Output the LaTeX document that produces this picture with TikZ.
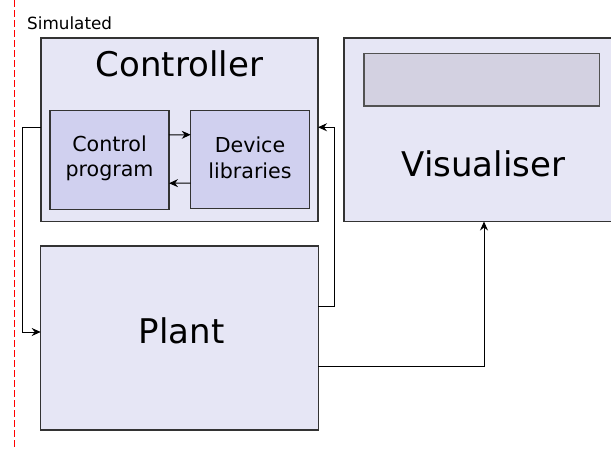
\documentclass[tikz,border=0pt]{standalone}
\usepackage{fontspec}
\setmainfont{DejaVu Sans}
\usetikzlibrary{arrows.meta}

\definecolor{panel}{HTML}{E6E6F5}
\definecolor{inner}{HTML}{D0D0EF}
\definecolor{screenfill}{HTML}{D3D1E1}
\definecolor{edge}{HTML}{333333}

\tikzset{
  block/.style={draw=edge, line width=1.2pt, fill=panel, rectangle,
                inner sep=0pt, outer sep=0pt, anchor=north west},
  subblock/.style={block, fill=inner},
  screenbox/.style={block, fill=screenfill, draw=edge!85},
  bigtxt/.style={inner sep=0pt, anchor=base, font=\fontsize{34}{40}\selectfont},
  midtxt/.style={inner sep=0pt, anchor=base, font=\fontsize{20.6}{25}\selectfont},
  link/.style={draw=black, line width=1pt,
               -{Stealth[length=9pt, width=8pt, inset=3pt]}},
  boundary/.style={draw=red, line width=1pt, dash pattern=on 6.5pt off 3.5pt}
}

\begin{document}
\begin{tikzpicture}[x=1pt, y=-1pt]
  \useasboundingbox (0,0) rectangle (611,448);

  % simulation boundary
  \draw[boundary] (14.3,0) -- (14.3,448);
  \node[inner sep=0pt, anchor=base west, font=\fontsize{16.8}{20}\selectfont]
    (sim) at (27,29) {Simulated};

  % controller with its two parts
  \node[block, minimum width=277pt, minimum height=183.5pt] (ctrl) at (41,38) {};
  \node[bigtxt] (ctrltxt) at (179.5,76) {Controller};
  \node[subblock, minimum width=119pt, minimum height=98.5pt] (cp) at (50,110.7) {};
  \node[subblock, minimum width=118.5pt, minimum height=98pt] (dl) at (190.7,110.7) {};
  \node[midtxt] (cp1) at (109.5,151.7) {Control};
  \node[midtxt] (cp2) at (109.5,176.5) {program};
  \node[midtxt] (dl1) at (250,152.5) {Device};
  \node[midtxt] (dl2) at (250,178) {libraries};

  % visualiser
  \node[block, minimum width=280pt, minimum height=183.5pt] (vis) at (344,38) {};
  \node[screenbox, minimum width=235.3pt, minimum height=52.7pt] (screen) at (364,53.3) {};
  \node[bigtxt] (vistxt) at (483.5,176) {Visualiser};

  % plant
  \node[block, minimum width=277.5pt, minimum height=184pt] (plant) at (40.7,246) {};
  \node[bigtxt] (planttxt) at (181.5,343) {Plant};

  % connections
  \draw[link] ([yshift=25pt]cp.east) -- ([yshift=25pt]dl.west);
  \draw[link] ([yshift=-23.3pt]dl.west) -- ([yshift=-23.3pt]cp.east);
  \draw[link] ([yshift=2.5pt]ctrl.west) -- ++(-18.5,0) |- ([yshift=6pt]plant.west);
  \draw[link] ([yshift=31.3pt]plant.east) -- ++(16,0) |- ([yshift=2.5pt]ctrl.east);
  \draw[link] ([yshift=-28pt]plant.east) -| (vis.south);
\end{tikzpicture}
\end{document}
